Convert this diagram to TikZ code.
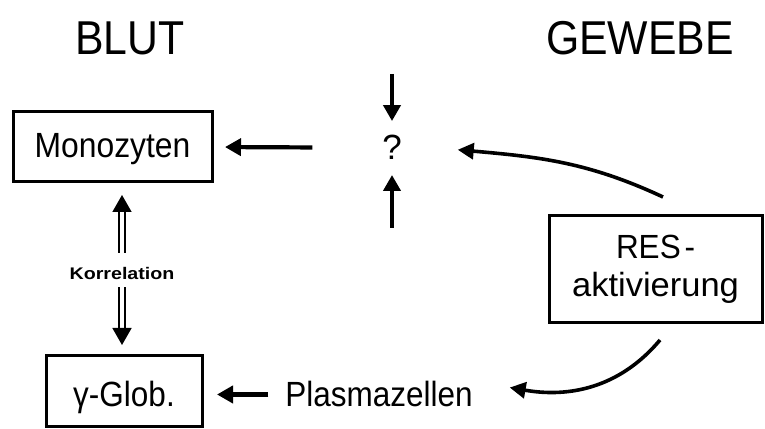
\documentclass[tikz,border=0pt]{standalone}
\usepackage{fontspec}
\setmainfont{Liberation Sans}
\usepackage{graphicx}
\usetikzlibrary{arrows.meta,calc}
\newcommand\sx[2]{\scalebox{#1}[1]{#2}}
\newcommand\fs[1]{\fontsize{#1}{#1}\selectfont}
\begin{document}
\begin{tikzpicture}[x=1pt,y=1pt,
  box/.style={draw, line width=3pt, inner sep=0pt, outer sep=0pt},
  lbl/.style={inner sep=0pt, outer sep=0pt, anchor=base},
  arr/.style={line width=4.2pt, -{Triangle[length=16pt,width=17pt]}},
  carr/.style={line width=3.6pt, -{Triangle[length=16pt,width=16pt]}},
  hollow/.style={line width=1.5pt, double=white, double distance=4.5pt, -{Triangle[length=17pt,width=19pt]}}]
\useasboundingbox[fill=white] (0,0) rectangle (765,428);
\node[lbl] (blut) at (130,373) {\fs{47.5}\sx{0.9}{BLUT}};
\node[lbl] (gewebe) at (640,373) {\fs{47.5}\sx{0.9}{GEWEBE}};
\node[box, minimum width=199pt, minimum height=70pt, text height=25.5pt, text depth=3.5pt] (mono) at (112.5,281) {\fs{35}\sx{0.91}{Monozyten}};
\node[lbl] (q) at (392,268) {\fs{35}?};
\coordinate (qtop) at (392,354);
\coordinate (qbot) at (392,200);
\draw[arr, shorten >=14.5pt] (qtop) -- (q.north);
\draw[arr, shorten >=15pt] (qbot) -- (q.south);
\draw[arr, shorten <=70pt, shorten >=13pt] (q.west) -- (mono.east);
\node[box, minimum width=213pt, minimum height=107pt, align=center, font=\fontsize{33.5}{38}\selectfont] (res) at (655.5,158.5) {\sx{0.94}{RES\kern4pt-}\\\sx{1.03}{aktivierung}};
\node[lbl, font=\bfseries] (korr) at (122,148) {\fs{16.8}\sx{1.17}{Korrelation}};
\node[box, minimum width=156pt, minimum height=70pt, text height=32pt, text depth=0pt] (glob) at (124,37) {\fs{35}\sx{0.9}{γ-Glob.}};
\node[lbl] (plasma) at (379,21) {\fs{35}\sx{0.9}{Plasmazellen}};
\draw[hollow, shorten <=15pt, shorten >=13pt] (korr.north) -- (korr.north |- mono.south);
\draw[hollow, shorten <=7pt, shorten >=11pt] (korr.south) -- (korr.south |- glob.north);
\draw[arr, shorten <=17pt, shorten >=15pt] (plasma.west) -- (plasma.west -| glob.east);
\draw[carr] ([xshift=7.5pt,yshift=19pt]res.north) to[out=155,in=-5] ([xshift=56pt,yshift=-2pt]q.east);
\draw[carr] ([xshift=4.5pt,yshift=-17pt]res.south) to[out=230,in=-10] ([xshift=37pt,yshift=7pt]plasma.east);
\end{tikzpicture}
\end{document}
